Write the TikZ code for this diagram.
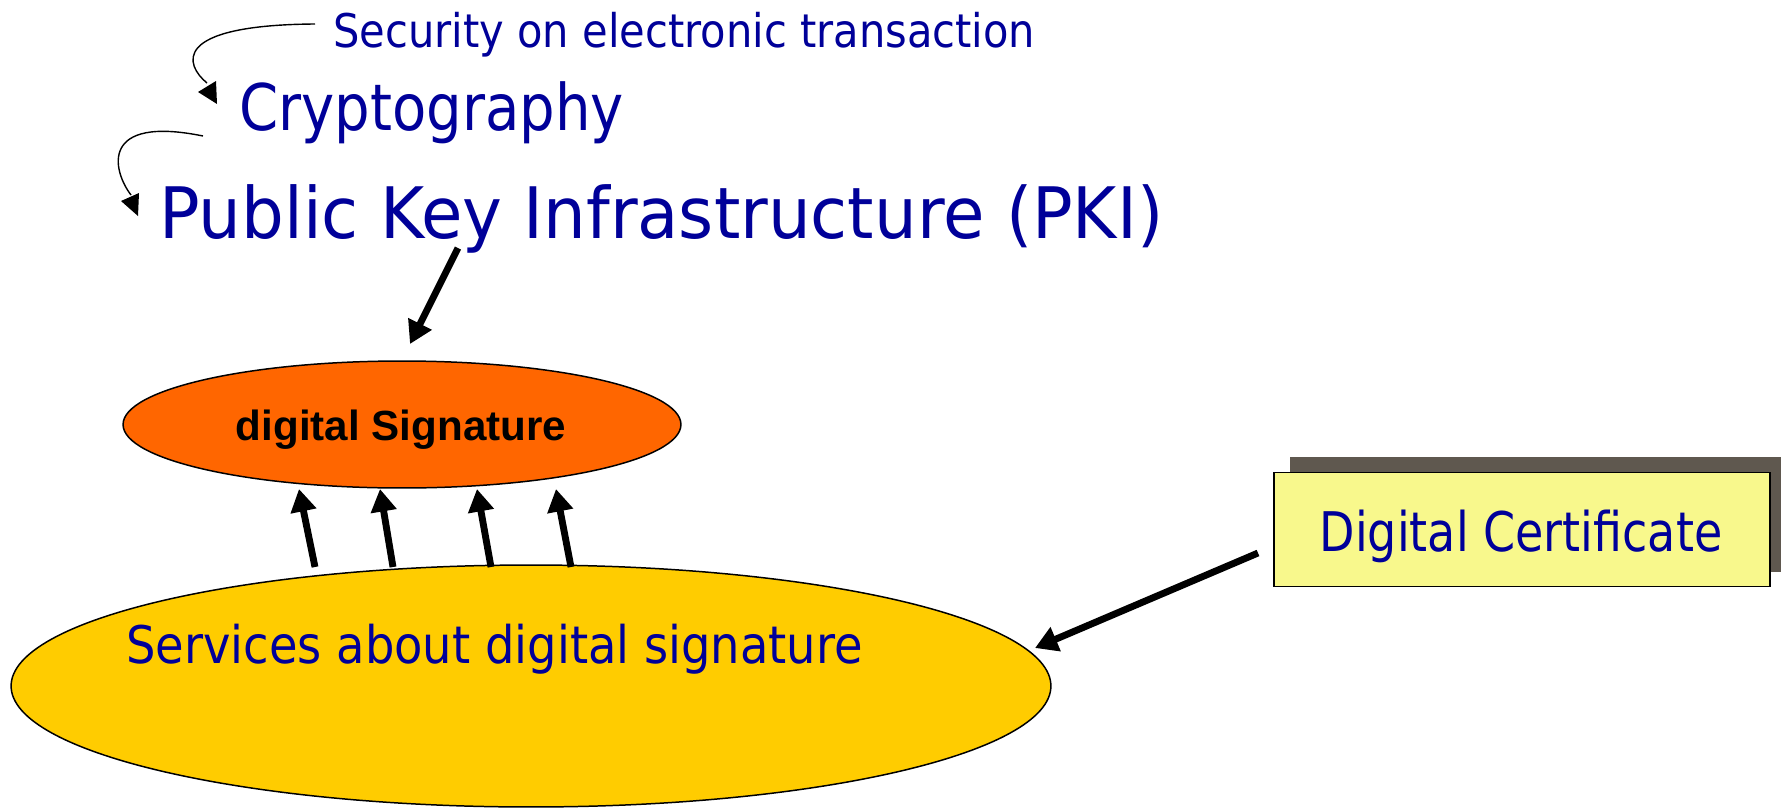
\documentclass[tikz,border=0pt]{standalone}
\usepackage{fontspec}
\setmainfont{Liberation Sans}
\newfontfamily\secfont[FakeStretch=0.897]{DejaVu Sans}
\newfontfamily\cryfont[FakeStretch=0.872]{DejaVu Sans}
\newfontfamily\pkifont[FakeStretch=0.949]{DejaVu Sans}
\newfontfamily\svcfont[FakeStretch=0.895]{DejaVu Sans}
\newfontfamily\certfont[FakeStretch=0.842]{DejaVu Sans}
\usetikzlibrary{arrows.meta,shapes.geometric}
\definecolor{txtblue}{HTML}{000099}
\definecolor{sigorange}{HTML}{FF6600}
\definecolor{svcgold}{HTML}{FFCC00}
\definecolor{certyellow}{HTML}{F8F88C}
\definecolor{shadowgrey}{HTML}{5F584F}
\newcommand{\fsz}[1]{\fontsize{#1}{1.2\dimexpr#1\relax}\selectfont}
\tikzset{
  bluetext/.style={inner sep=0pt, text=txtblue},
  thinline/.style={line width=0.8pt},
  thickarrow/.style={line width=3.9pt, -{Triangle[length=0.45cm,width=0.5cm]}},
  outlined/.style={draw=black, line width=0.85pt},
}
\begin{document}
\begin{tikzpicture}[x=0.02cm, y=-0.02cm]
\useasboundingbox (0,0) rectangle (1781,808);

% heading chain
\node[bluetext, anchor=base west, font=\secfont] (sec) at (333,47) {\fsz{26.4pt}Security on electronic transaction};
\node[bluetext, anchor=base west, font=\cryfont] (cry) at (239,130) {\fsz{36.6pt}Cryptography};
\node[bluetext, anchor=base west, font=\pkifont] (pki) at (159,238) {\fsz{40.4pt}Public Key Infrastructure (PKI)};

% hooked arrows between the heading lines
\coordinate (c1s) at (315,24);
\coordinate (c1e) at (207,83);
\coordinate (c1tip) at (198,92);
\coordinate (c1b1) at (216,81);
\coordinate (c1b2) at (217,104);
\draw[thinline] (c1s) .. controls (170,25) and (185,65) .. (c1e);
\fill (c1tip) -- (c1b1) -- (c1b2) -- cycle;

\coordinate (c2s) at (203,136);
\coordinate (c2e) at (131,195);
\coordinate (c2tip) at (121,201);
\coordinate (c2b1) at (139,193);
\coordinate (c2b2) at (138,216);
\draw[thinline] (c2s) .. controls (100,115) and (112,170) .. (c2e);
\fill (c2tip) -- (c2b1) -- (c2b2) -- cycle;

% ellipses
\node[outlined, fill=svcgold, ellipse, minimum width=20.8cm, minimum height=4.84cm, inner sep=0pt] (svc) at (531,686) {};
\node[bluetext, anchor=base west, font=\svcfont] (svctext) at (126,663) {\fsz{29.5pt}Services about digital signature};

\node[outlined, fill=sigorange, ellipse, minimum width=11.16cm, minimum height=2.54cm, inner sep=0pt] (sig) at (402,424.5) {};
\node[inner sep=0pt, anchor=base, font=\bfseries] (sigtext) at (401,440) {\fsz{24pt}digital Signature};

% certificate box with drop shadow
\fill[shadowgrey] (1290,457) rectangle (1781,572);
\node[outlined, fill=certyellow, minimum width=9.92cm, minimum height=2.28cm, inner sep=0pt] (cert) at (1522,529.5) {};
\node[bluetext, anchor=base, font=\certfont] (certtext) at (1521,551) {\fsz{31.1pt}Digital Certificate};

% connectors
\coordinate (pkis) at (458,248);
\coordinate (pkie) at (410,344);
\draw[thickarrow] (pkis) -- (pkie);

\coordinate (u1s) at (315,567); \coordinate (u1e) at (299,489);
\coordinate (u2s) at (393,567); \coordinate (u2e) at (380,489);
\coordinate (u3s) at (491,567); \coordinate (u3e) at (477,489);
\coordinate (u4s) at (571,567); \coordinate (u4e) at (556,489);
\draw[thickarrow] (u1s) -- (u1e);
\draw[thickarrow] (u2s) -- (u2e);
\draw[thickarrow] (u3s) -- (u3e);
\draw[thickarrow] (u4s) -- (u4e);

\coordinate (cs) at (1258,553);
\coordinate (ce) at (1035,648);
\draw[thickarrow] (cs) -- (ce);
\end{tikzpicture}
\end{document}
